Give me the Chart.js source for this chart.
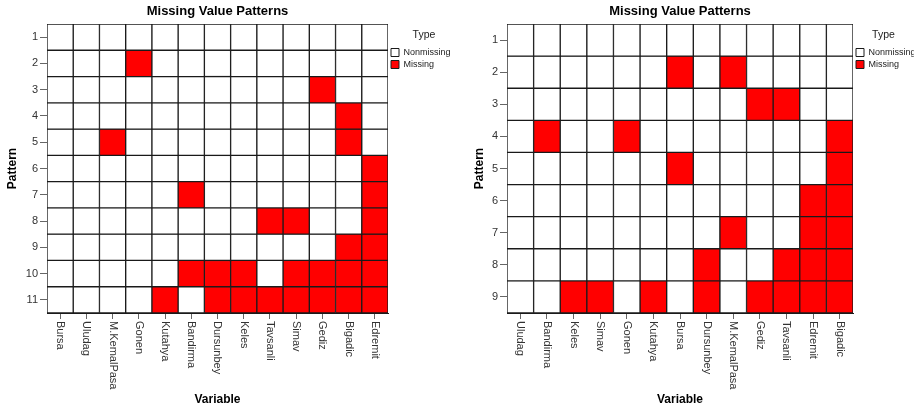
<!DOCTYPE html>
<html>
<head>
<meta charset="utf-8">
<script src="https://cdn.jsdelivr.net/npm/chart.js@4.4.1/dist/chart.umd.min.js"></script>
<style>
  html, body { margin: 0; padding: 0; background: #ffffff; }
  #wrap { position: relative; width: 914px; height: 410px; overflow: hidden; }
  .box { position: absolute; top: 0; height: 410px; }
  #leftBox { left: 0; width: 460px; }
  #rightBox { left: 460px; width: 454px; }
</style>
</head>
<body>
<div id="wrap">
  <div class="box" id="leftBox"><canvas id="leftChart"></canvas></div>
  <div class="box" id="rightBox"><canvas id="rightChart"></canvas></div>
</div>
<script>
// ---- Data ----
const chartTitle = 'Missing Value Patterns';
const typeLabels = ['Nonmissing', 'Missing'];

const leftVariables = ['Bursa', 'Uludag', 'M.KemalPasa', 'Gonen', 'Kutahya', 'Bandirma', 'Dursunbey', 'Keles', 'Tavsanli', 'Simav', 'Gediz', 'Bigadic', 'Edremit'];
const leftPatterns = [1, 2, 3, 4, 5, 6, 7, 8, 9, 10, 11];
// 1 = Missing, 0 = Nonmissing (one row per pattern, columns follow leftVariables)
const leftMissing = [
  [0,0,0,0,0,0,0,0,0,0,0,0,0],
  [0,0,0,1,0,0,0,0,0,0,0,0,0],
  [0,0,0,0,0,0,0,0,0,0,1,0,0],
  [0,0,0,0,0,0,0,0,0,0,0,1,0],
  [0,0,1,0,0,0,0,0,0,0,0,1,0],
  [0,0,0,0,0,0,0,0,0,0,0,0,1],
  [0,0,0,0,0,1,0,0,0,0,0,0,1],
  [0,0,0,0,0,0,0,0,1,1,0,0,1],
  [0,0,0,0,0,0,0,0,0,0,0,1,1],
  [0,0,0,0,0,1,1,1,0,1,1,1,1],
  [0,0,0,0,1,0,1,1,1,1,1,1,1]
];

const rightVariables = ['Uludag', 'Bandirma', 'Keles', 'Simav', 'Gonen', 'Kutahya', 'Bursa', 'Dursunbey', 'M.KemalPasa', 'Gediz', 'Tavsanli', 'Edremit', 'Bigadic'];
const rightPatterns = [1, 2, 3, 4, 5, 6, 7, 8, 9];
const rightMissing = [
  [0,0,0,0,0,0,0,0,0,0,0,0,0],
  [0,0,0,0,0,0,1,0,1,0,0,0,0],
  [0,0,0,0,0,0,0,0,0,1,1,0,0],
  [0,1,0,0,1,0,0,0,0,0,0,0,1],
  [0,0,0,0,0,0,1,0,0,0,0,0,1],
  [0,0,0,0,0,0,0,0,0,0,0,1,1],
  [0,0,0,0,0,0,0,0,1,0,0,1,1],
  [0,0,0,0,0,0,0,1,0,0,1,1,1],
  [0,0,1,1,0,1,0,1,0,1,1,1,1]
];

// ---- Styling ----
const MISSING = '#ff0000';
const NONMISSING = '#ffffff';
const EDGE = '#1a1a1a';
const FONT = '"Liberation Sans", Arial, sans-serif';
const TICK_COLOR = '#333333';
const TICK_MARK = '#666666';

Chart.defaults.font.family = FONT;
Chart.defaults.color = TICK_COLOR;

// Vertical (top-to-bottom) category labels for the bottom axis
const verticalXLabels = {
  id: 'verticalXLabels',
  afterDraw(chart) {
    const sc = chart.scales.x;
    const ctx = chart.ctx;
    ctx.save();
    ctx.font = '11px ' + FONT;
    ctx.fillStyle = TICK_COLOR;
    ctx.textAlign = 'left';
    ctx.textBaseline = 'middle';
    chart.data.labels.forEach((lab, i) => {
      const x = sc.getPixelForTick(i);
      ctx.save();
      ctx.translate(x, sc.top + 8);
      ctx.rotate(Math.PI / 2);
      ctx.fillText(lab, 0, 0);
      ctx.restore();
    });
    ctx.restore();
  }
};

function buildChart(canvasId, variables, patterns, missing, opts) {
  const datasets = patterns.map((p, r) => ({
    label: 'Pattern ' + p,
    data: variables.map(() => [p - 0.5, p + 0.5]),
    backgroundColor: missing[r].map(m => m ? MISSING : NONMISSING),
    borderColor: EDGE,
    borderWidth: 1,
    borderSkipped: false,
    grouped: false,
    categoryPercentage: 1.0,
    barPercentage: 1.0
  }));

  return new Chart(document.getElementById(canvasId), {
    type: 'bar',
    data: { labels: variables, datasets },
    plugins: [verticalXLabels],
    options: {
      responsive: true,
      maintainAspectRatio: false,
      animation: false,
      events: [],
      layout: { padding: { left: 0, right: 0, top: 0, bottom: 0 } },
      plugins: {
        tooltip: { enabled: false },
        title: {
          display: true,
          text: chartTitle,
          fullSize: false,
          color: '#000000',
          font: { size: 13, weight: 'bold', family: FONT },
          padding: { top: 4, bottom: 4.4 }
        },
        legend: {
          display: true,
          position: 'right',
          align: 'start',
          fullSize: false,
          maxWidth: opts.legendWidth,
          title: {
            display: true,
            text: 'Type',
            color: '#222222',
            font: { size: 10.5, family: FONT },
            padding: { top: 6, bottom: 2.4 }
          },
          labels: {
            boxWidth: 8,
            boxHeight: 8,
            padding: 3,
            color: '#222222',
            font: { size: 9, family: FONT },
            generateLabels: () => typeLabels.map((t, i) => ({
              text: t,
              fillStyle: i === 1 ? MISSING : NONMISSING,
              strokeStyle: EDGE,
              lineWidth: 1,
              hidden: false,
              datasetIndex: i
            }))
          }
        }
      },
      scales: {
        x: {
          type: 'category',
          offset: true,
          afterFit: (scale) => { scale.height = 97; },
          grid: { display: true, drawOnChartArea: false, offset: false, tickLength: 6, color: TICK_MARK },
          border: { display: true, color: EDGE, width: 1 },
          ticks: { display: false },
          title: {
            display: true,
            text: 'Variable',
            color: '#000000',
            font: { size: 12, weight: 'bold', family: FONT },
            padding: { top: 0, bottom: 3 }
          }
        },
        y: {
          type: 'linear',
          reverse: true,
          min: patterns[0] - 0.5,
          max: patterns[patterns.length - 1] + 0.5,
          afterBuildTicks: (scale) => { scale.ticks = patterns.map(p => ({ value: p })); },
          afterFit: (scale) => { scale.width = opts.yWidth; },
          grid: { display: true, drawOnChartArea: false, tickLength: 7, color: TICK_MARK },
          border: { display: true, color: EDGE, width: 1 },
          ticks: { color: TICK_COLOR, padding: 2, font: { size: 11, family: FONT } },
          title: {
            display: true,
            text: 'Pattern',
            color: '#000000',
            font: { size: 12, weight: 'bold', family: FONT },
            padding: { top: opts.yTitlePad, bottom: 0 }
          }
        }
      }
    }
  });
}

buildChart('leftChart', leftVariables, leftPatterns, leftMissing, { yWidth: 47, legendWidth: 72, yTitlePad: 5 });
buildChart('rightChart', rightVariables, rightPatterns, rightMissing, { yWidth: 47, legendWidth: 61, yTitlePad: 12 });
</script>
</body>
</html>
